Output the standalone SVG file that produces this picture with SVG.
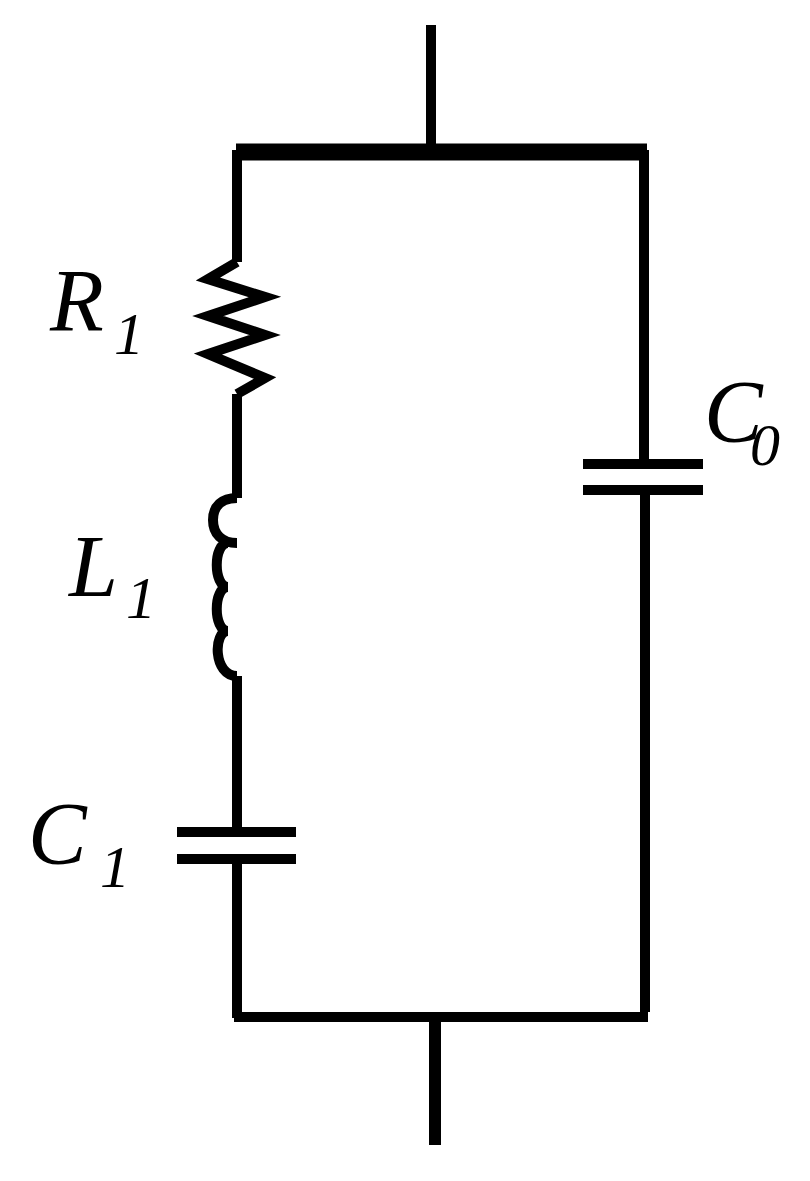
<svg xmlns="http://www.w3.org/2000/svg" width="810" height="1181" viewBox="0 0 810 1181">
<style>
.w{fill:none;stroke:#000;stroke-width:10;stroke-linejoin:miter}
.l{font-family:"Liberation Serif",serif;font-style:italic;fill:#000}
</style>
<rect width="810" height="1181" fill="#fff"/>
<g id="connectors">
<path class="w" d="M431 25V150"/>
<path class="w" style="stroke-width:17" d="M236 152H647"/>
<path class="w" d="M237 150V262"/>
<path class="w" d="M237 394V498"/>
<path class="w" d="M237 676V830"/>
<path class="w" d="M237 860V1018"/>
<path class="w" d="M644 150V462"/>
<path class="w" d="M645 490V1012"/>
<path class="w" d="M234 1017H648"/>
<path class="w" style="stroke-width:12" d="M435 1020V1145"/>
</g>
<g id="R1"><path class="w" d="M237 262L208 279L265 297L208 316L265 335L208 354L265 378L237 394"/><text class="l" x="50" y="330" font-size="88">R</text><text class="l" x="114" y="354" font-size="60">1</text></g>
<g id="L1"><path class="w" d="M237 498C222 498 213 506 213 520C213 534 222 543 237 543M228 543C213 543 213 587 228 587M228 587C213 587 213 631 228 631M228 631C213 631 213 676 237 676"/><text class="l" x="69" y="596" font-size="88">L</text><text class="l" x="126" y="618" font-size="60">1</text></g>
<g id="C1"><path class="w" d="M177 832H296M177 859H296"/><text class="l" x="28" y="863" font-size="88">C</text><text class="l" x="100" y="887" font-size="60">1</text></g>
<g id="C0"><path class="w" d="M583 464H703M583 490H703"/><text class="l" x="704" y="441" font-size="88">C</text><text class="l" x="750" y="465" font-size="60">0</text></g>
</svg>
